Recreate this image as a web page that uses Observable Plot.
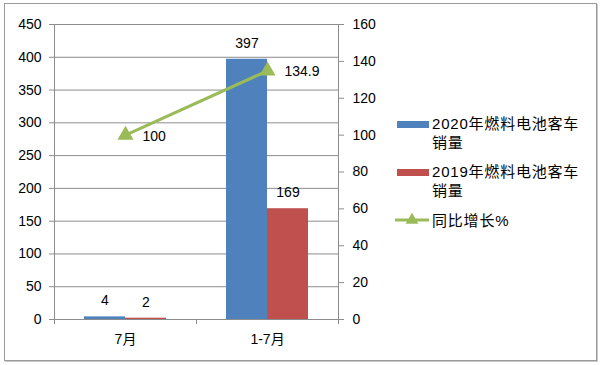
<!DOCTYPE html>
<html>
<head>
<meta charset="utf-8">
<script src="https://cdn.jsdelivr.net/npm/d3@7"></script>
<script src="https://cdn.jsdelivr.net/npm/@observablehq/plot@0.6"></script>
<style>
  html, body { margin: 0; padding: 0; background: #fff; }
  #wrap { position: relative; width: 600px; height: 365px; font-family: "Liberation Sans", "Noto Sans CJK SC", sans-serif; color: #000; }
  #border { position: absolute; left: 4px; top: 3px; width: 591px; height: 356px; border: 1px solid #9a9a9a; box-shadow: 1px 1px 0 #c8c8c8; }
  #chart { position: absolute; left: 0; top: 0; }
  .leg { position: absolute; left: 432px; font-size: 15px; letter-spacing: 0.8px; line-height: 19px; white-space: nowrap; }
  .sw { position: absolute; left: 397px; width: 32px; height: 7px; }
</style>
</head>
<body>
<div id="wrap">
  <div id="border"></div>
  <div id="chart"></div>
</div>
<script>
const categories = ["7月", "1-7月"];
const sales2020 = [4, 397];
const sales2019 = [2, 169];
const growth = [100, 134.9];
const leftTicks = [0, 50, 100, 150, 200, 250, 300, 350, 400, 450];
const rightTicks = [0, 20, 40, 60, 80, 100, 120, 140, 160];
const legendLines = [["2020年燃料电池客车", "销量"], ["2019年燃料电池客车", "销量"], ["同比增长%"]];
const colors = ["#4F81BD", "#C0504D", "#9BBB59"];

const leftMax = 450, rightMax = 160;
const toLeft = v => v * leftMax / rightMax;

const rows = categories.map((c, i) => ({cat: c, a: sales2020[i], b: sales2019[i], g: growth[i]}));

const font = "Liberation Sans, Noto Sans CJK SC, sans-serif";
const gray = "#8c8c8c";

const plot = Plot.plot({
  width: 600,
  height: 365,
  marginLeft: 54,
  marginRight: 262,
  marginTop: 24,
  marginBottom: 46,
  style: {fontFamily: font, fontSize: "14px", color: "#000", background: "transparent"},
  x: {type: "band", domain: categories, padding: 0, axis: null},
  y: {domain: [0, leftMax], axis: null},
  marks: [
    Plot.ruleY(leftTicks, {stroke: gray, strokeWidth: 1}),
    Plot.barY(rows, {x: "cat", y: "a", fill: colors[0], insetLeft: 30, insetRight: 71}),
    Plot.barY(rows, {x: "cat", y: "b", fill: colors[1], insetLeft: 71, insetRight: 30}),
    Plot.frame({stroke: gray, strokeWidth: 1}),
    Plot.axisY(leftTicks, {anchor: "left", tickSize: 5, tickPadding: 8, stroke: gray, fill: "#000", label: null, fontSize: 14}),
    Plot.axisY(rightTicks, {anchor: "right", y: d => toLeft(d), text: d => String(d), tickSize: 5, tickPadding: 9, stroke: gray, fill: "#000", label: null, fontSize: 14}),
    Plot.axisX({anchor: "bottom", tickSize: 0, tickPadding: 15, label: null, fontSize: 14, fill: "#000"}),
    Plot.ruleX(categories, {x: d => d, dx: -71, y1: 0, y2: 0, insetBottom: -5, stroke: gray}),
    Plot.ruleX(categories.slice(-1), {x: d => d, dx: 71, y1: 0, y2: 0, insetBottom: -5, stroke: gray}),
    Plot.text(rows, {x: "cat", y: "a", text: d => String(d.a), dx: -20.5, dy: -16, fill: "#000", fontSize: 14}),
    Plot.text(rows, {x: "cat", y: "b", text: d => String(d.b), dx: 20.5, dy: -16, fill: "#000", fontSize: 14}),
    Plot.line(rows, {x: "cat", y: d => toLeft(d.g), stroke: colors[2], strokeWidth: 3}),
    Plot.dot(rows, {x: "cat", y: d => toLeft(d.g), symbol: "triangle", r: 6, fill: colors[2], stroke: "none"}),
    Plot.text(rows, {x: "cat", y: d => toLeft(d.g), text: d => String(d.g), textAnchor: "start", dx: 17, dy: 1, fill: "#000", fontSize: 14})
  ]
});
document.getElementById("chart").appendChild(plot);

// legend
const wrap = document.getElementById("wrap");
function addText(txt, top) {
  const d = document.createElement("div");
  d.className = "leg";
  d.style.top = top + "px";
  d.textContent = txt;
  wrap.appendChild(d);
}
function addSwatch(color, top) {
  const s = document.createElement("div");
  s.className = "sw";
  s.style.top = top + "px";
  s.style.background = color;
  wrap.appendChild(s);
}
addSwatch(colors[0], 121);
addText(legendLines[0][0], 114);
addText(legendLines[0][1], 133);
addSwatch(colors[1], 169);
addText(legendLines[1][0], 162);
addText(legendLines[1][1], 181);
const ns = "http://www.w3.org/2000/svg";
const lsvg = document.createElementNS(ns, "svg");
lsvg.setAttribute("width", 36); lsvg.setAttribute("height", 14);
lsvg.style.position = "absolute"; lsvg.style.left = "394px"; lsvg.style.top = "213px";
const ln = document.createElementNS(ns, "line");
ln.setAttribute("x1", 1); ln.setAttribute("x2", 35); ln.setAttribute("y1", 7); ln.setAttribute("y2", 7);
ln.setAttribute("stroke", colors[2]); ln.setAttribute("stroke-width", 3);
lsvg.appendChild(ln);
const tri = document.createElementNS(ns, "path");
tri.setAttribute("d", d3.symbol(d3.symbolTriangle, 70)());
tri.setAttribute("transform", "translate(18,7)");
tri.setAttribute("fill", colors[2]);
lsvg.appendChild(tri);
wrap.appendChild(lsvg);
addText(legendLines[2][0], 211);
</script>
</body>
</html>
